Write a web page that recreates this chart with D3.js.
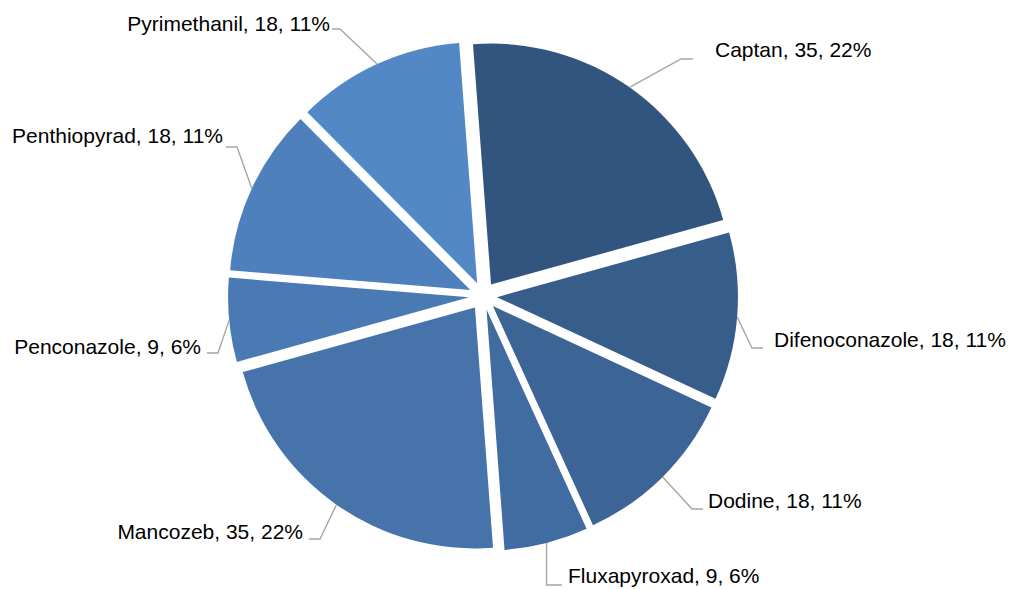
<!DOCTYPE html>
<html>
<head>
<meta charset="utf-8">
<script src="https://cdn.jsdelivr.net/npm/d3@7"></script>
<style>
  html, body { margin: 0; padding: 0; background: #fff; }
  svg { display: block; }
  text { font-family: "Liberation Sans", Arial, sans-serif; font-size: 21px; fill: #000; }
</style>
</head>
<body>
<svg id="chart" width="1013" height="589"></svg>
<script>
// Fungicide usage, clockwise from the top
const categories = ["Captan", "Difenoconazole", "Dodine", "Fluxapyroxad",
                    "Mancozeb", "Penconazole", "Penthiopyrad", "Pyrimethanil"];
const values = [35, 18, 18, 9, 35, 9, 18, 18];
const colors = ["#325580", "#375d8b", "#3c6596", "#406ca1",
                "#4573aa", "#497ab4", "#4d80bd", "#5388c7"];

// Label placement: text anchor (tx, ty), leader elbow x (ex), leader end x (hx), leader level (hy)
const labelLayout = [
  { tx: 715, ty: 57,  anchor: "start", ex: 681, hx: 693, hy: 59 },
  { tx: 774, ty: 347, anchor: "start", ex: 752, hx: 763, hy: 348 },
  { tx: 708, ty: 508, anchor: "start", ex: 692, hx: 703, hy: 509 },
  { tx: 568, ty: 583, anchor: "start", ex: null, hx: 562, hy: 585 },
  { tx: 303, ty: 539, anchor: "end",   ex: 320, hx: 309, hy: 539 },
  { tx: 201, ty: 354, anchor: "end",   ex: 218, hx: 207, hy: 353 },
  { tx: 223, ty: 143, anchor: "end",   ex: 237, hx: 226, hy: 147 },
  { tx: 330, ty: 31,  anchor: "end",   ex: 340, hx: 332, hy: 29 }
];

const cx = 483, cy = 296;
const radius = 241;
const explode = 14;
const startOffset = -4.3 * Math.PI / 180;

const total = d3.sum(values);
const data = categories.map((c, i) => ({ name: c, value: values[i], color: colors[i] }));

const pie = d3.pie()
  .value(d => d.value)
  .sort(null)
  .startAngle(startOffset)
  .endAngle(startOffset + 2 * Math.PI);

const arc = d3.arc().innerRadius(0).outerRadius(radius);

const arcs = pie(data);

const svg = d3.select("#chart");
const g = svg.append("g").attr("transform", `translate(${cx},${cy})`);

// Direction vector of a slice's bisector (d3 angles: 0 at top, clockwise)
const dir = a => {
  const m = (a.startAngle + a.endAngle) / 2;
  return [Math.sin(m), -Math.cos(m)];
};

g.selectAll("path.slice")
  .data(arcs)
  .join("path")
  .attr("class", "slice")
  .attr("d", arc)
  .attr("fill", d => d.data.color)
  .attr("transform", d => {
    const [ux, uy] = dir(d);
    return `translate(${ux * explode},${uy * explode})`;
  });

// Leader lines and labels
const leaders = svg.append("g");
arcs.forEach((d, i) => {
  const L = labelLayout[i];
  const [ux, uy] = dir(d);
  const px = cx + ux * (explode + radius);
  const py = cy + uy * (explode + radius);
  const ex = L.ex === null ? px : L.ex;
  leaders.append("polyline")
    .attr("points", `${px},${py} ${ex},${L.hy} ${L.hx},${L.hy}`)
    .attr("fill", "none")
    .attr("stroke", "#a6a6a6")
    .attr("stroke-width", 1.4);

  const pct = Math.round(d.data.value / total * 100);
  leaders.append("text")
    .attr("x", L.tx)
    .attr("y", L.ty)
    .attr("text-anchor", L.anchor)
    .text(`${d.data.name}, ${d.data.value}, ${pct}%`);
});
</script>
</body>
</html>
